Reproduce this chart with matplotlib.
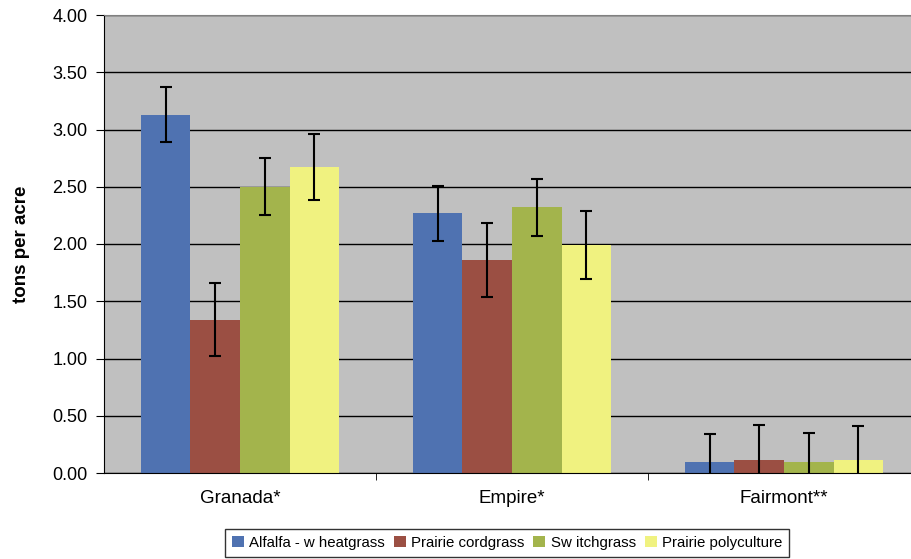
import matplotlib
matplotlib.use('Agg')
import matplotlib.pyplot as plt
import numpy as np

plt.rcParams['font.family'] = ['Liberation Sans', 'DejaVu Sans']

# data
sites = ['Granada*', 'Empire*', 'Fairmont**']
series = ['Alfalfa - w heatgrass', 'Prairie cordgrass', 'Sw itchgrass', 'Prairie polyculture']
alfalfa = [3.13, 2.27, 0.10]
cordgrass = [1.34, 1.86, 0.11]
switchgrass = [2.50, 2.32, 0.10]
polyculture = [2.67, 1.99, 0.11]
alfalfa_err = [0.24, 0.24, 0.24]
cordgrass_err = [0.32, 0.32, 0.31]
switchgrass_err = [0.25, 0.25, 0.25]
polyculture_err = [0.29, 0.30, 0.30]

colors = ['#4F72B1', '#9B4F43', '#A3B44C', '#F0F280']

fig = plt.figure(figsize=(9.12, 5.59), dpi=100)
ax = fig.add_axes([104 / 912, 1 - 473 / 559, 816 / 912, 458 / 559])
ax.set_facecolor('#C0C0C0')

x = np.arange(len(sites))
w = 0.182
vals = [alfalfa, cordgrass, switchgrass, polyculture]
errs = [alfalfa_err, cordgrass_err, switchgrass_err, polyculture_err]
for i, (v, e) in enumerate(zip(vals, errs)):
    pos = x + (i - 1.5) * w
    ax.bar(pos, v, width=w, color=colors[i], label=series[i], zorder=2)
    ax.errorbar(pos, v, yerr=e, fmt='none', ecolor='black', elinewidth=1.5,
                capsize=4, capthick=1.5, zorder=3)

ax.set_ylim(0, 4)
ax.set_xlim(-0.5, 2.5)
ax.set_yticks(np.arange(0, 4.01, 0.5))
ax.set_yticklabels(['%.2f' % t for t in np.arange(0, 4.01, 0.5)], fontsize=13)
ax.yaxis.grid(True, color='black', linewidth=1, zorder=1)
ax.set_axisbelow(True)

ax.set_xticks(x)
ax.set_xticklabels(sites, fontsize=13.5)
ax.tick_params(axis='x', length=0, pad=12)
ax.set_xticks([0.5, 1.5], minor=True)
ax.tick_params(axis='x', which='minor', length=5, direction='out')
ax.tick_params(axis='y', length=6, direction='out', pad=6)

ax.spines['top'].set_color('#808080')
ax.spines['right'].set_visible(False)
ax.spines['left'].set_color('black')
ax.spines['bottom'].set_color('black')

ax.set_ylabel('tons per acre', fontsize=13.5, fontweight='bold', labelpad=16)

leg = fig.legend(loc='upper center', bbox_to_anchor=(507 / 912, 1 - 529 / 559), ncol=4,
                 fontsize=10.8, frameon=True, fancybox=False, edgecolor='black',
                 handlelength=0.8, handleheight=0.8, handletextpad=0.35,
                 columnspacing=0.6, borderpad=0.45, borderaxespad=0.0)
leg.get_frame().set_linewidth(1)

fig.savefig('out.png', dpi=100)
